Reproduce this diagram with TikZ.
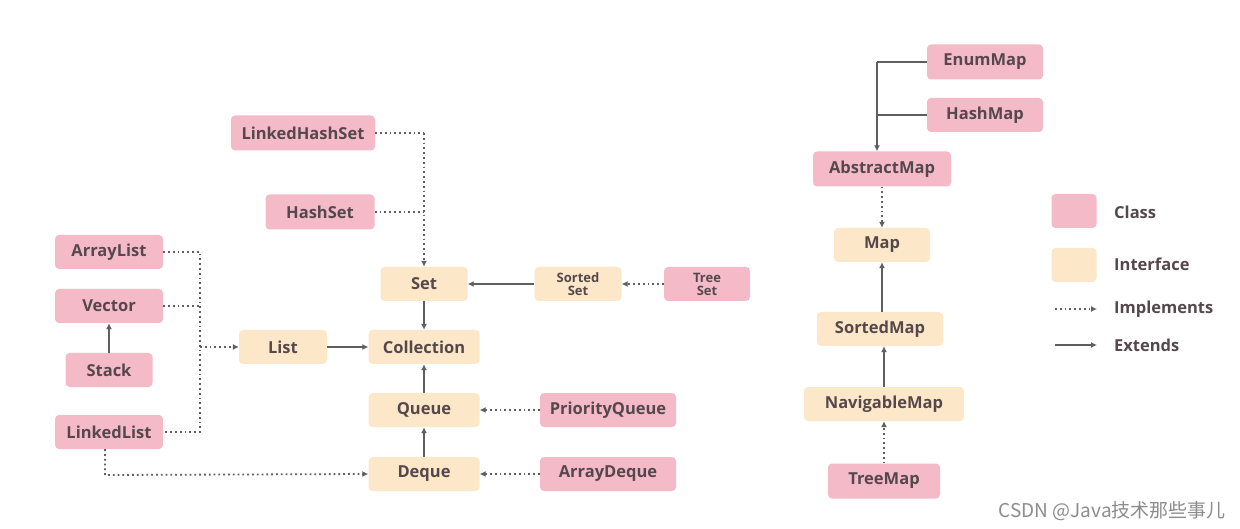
\documentclass[tikz,border=0pt]{standalone}
\usepackage{fontspec}
\setmainfont{Open Sans}
\newfontfamily\cjkfont{Noto Sans CJK SC}
\usetikzlibrary{arrows.meta}
\definecolor{clspink}{RGB}{244,186,200}
\definecolor{ifbeige}{RGB}{252,232,200}
\definecolor{txtgray}{RGB}{85,72,76}
\definecolor{linegray}{RGB}{95,95,95}
\tikzset{
  base/.style={rounded corners=4pt, inner sep=0pt, text=txtgray, font=\fontsize{16.5}{18}\selectfont\bfseries, align=center},
  cls/.style={base, fill=clspink},
  ifc/.style={base, fill=ifbeige},
  small/.style={font=\fontsize{13}{13}\selectfont\bfseries},
  ext/.style={draw=linegray, line width=1.8pt, -{Latex[length=6pt,width=6pt]}},
  extl/.style={draw=linegray, line width=1.8pt},
  impl/.style={draw=linegray, line width=1.8pt, dash pattern=on 1.8pt off 3pt, -{Latex[length=6pt,width=6pt]}},
  impll/.style={draw=linegray, line width=1.8pt, dash pattern=on 1.8pt off 3pt},
  legtxt/.style={text=txtgray, font=\fontsize{16.5}{18}\selectfont\bfseries, anchor=west, inner sep=0pt}
}
\begin{document}
\begin{tikzpicture}[x=1pt,y=-1pt]
\useasboundingbox[fill=white] (0,0) rectangle (1240,529);
% left group
\node[cls, minimum width=144pt, minimum height=35pt] (lhs) at (303,133) {LinkedHashSet};
\node[cls, minimum width=109pt, minimum height=35pt] (hs) at (320,212) {HashSet};
\node[cls, minimum width=108pt, minimum height=34pt] (al) at (109,252) {ArrayList};
\node[cls, minimum width=108pt, minimum height=34pt] (vec) at (109,306) {Vector};
\node[cls, minimum width=87pt, minimum height=34pt] (stk) at (109,370) {Stack};
\node[cls, minimum width=108pt, minimum height=34pt] (ll) at (109,432) {LinkedList};
\node[ifc, minimum width=88pt, minimum height=34pt] (list) at (283,347) {List};
\node[ifc, minimum width=87pt, minimum height=34pt] (set) at (424,284) {Set};
\node[ifc, minimum width=111pt, minimum height=34pt] (coll) at (424,347) {Collection};
\node[ifc, minimum width=111pt, minimum height=34pt] (queue) at (424,410) {Queue};
\node[ifc, minimum width=111pt, minimum height=34pt] (deque) at (424,474) {Deque};
\node[ifc, small, minimum width=87pt, minimum height=34pt] (sset) at (578,284) {Sorted\\Set};
\node[cls, small, minimum width=86pt, minimum height=34pt] (tset) at (707,284) {Tree\\Set};
\node[cls, minimum width=136pt, minimum height=34pt] (pq) at (608,410) {PriorityQueue};
\node[cls, minimum width=136pt, minimum height=34pt] (ad) at (608,474) {ArrayDeque};
% map group
\node[cls, minimum width=116pt, minimum height=35pt] (em) at (985,62) {EnumMap};
\node[cls, minimum width=116pt, minimum height=34pt] (hm) at (985,115) {HashMap};
\node[cls, minimum width=138pt, minimum height=35pt] (am) at (882,169) {AbstractMap};
\node[ifc, minimum width=96pt, minimum height=34pt] (map) at (882,245) {Map};
\node[ifc, minimum width=126pt, minimum height=34pt] (smap) at (880,329) {SortedMap};
\node[ifc, minimum width=160pt, minimum height=34pt] (nmap) at (884,404) {NavigableMap};
\node[cls, minimum width=112pt, minimum height=35pt] (tmap) at (884,481) {TreeMap};
% legend
\node[cls, minimum width=45pt, minimum height=34pt] (lgc) at (1074,211) {};
\node[ifc, minimum width=45pt, minimum height=34pt] (lgi) at (1074,265) {};
\node[legtxt] (lgct) at (1114,212) {Class};
\node[legtxt] (lgit) at (1114,264) {Interface};
\node[legtxt] (lgimt) at (1114,309) {Implements};
\node[legtxt] (lgext) at (1114,345) {Extends};
\coordinate (li1) at (1055,309); \coordinate (li2) at (1097,309);
\coordinate (le1) at (1055,345); \coordinate (le2) at (1097,345);
\draw[impl] (li1) -- (li2);
\draw[ext] (le1) -- (le2);
% set connectors
\coordinate (setj) at (set.north |- lhs.east);
\draw[impll] (lhs.east) -- (setj);
\draw[impl] (setj) -- (set.north);
\draw[impll] (hs.east) -- (set.north |- hs.east);
\draw[ext] (sset.west) -- (set.east);
\draw[impl] (tset.west) -- (sset.east);
\draw[ext] (set.south) -- (coll.north);
\draw[ext] (list.east) -- (coll.west);
\draw[ext] (queue.north) -- (coll.south);
\draw[ext] (deque.north) -- (queue.south);
\draw[impl] (pq.west) -- (queue.east);
\draw[impl] (ad.west) -- (deque.east);
% list connectors
\coordinate (lj1) at (200,252);
\coordinate (lj2) at (200,432);
\coordinate (lj3) at (200,347);
\draw[impll] (al.east) -- (lj1) -- (lj2) -- (ll.east);
\draw[impll] (vec.east) -- (vec.east -| lj1);
\draw[impl] (lj3) -- (list.west);
\draw[ext] (stk.north) -- (vec.south);
\coordinate (lld) at (105,475);
\draw[impl] (ll.south -| lld) -- (lld) -- (deque.west);
% map connectors
\coordinate (mj1) at (877,62);
\draw[extl] (em.west) -- (mj1);
\draw[ext] (mj1) -- (mj1 |- am.north);
\draw[extl] (hm.west) -- (hm.west -| mj1);
\draw[impl] (am.south) -- (map.north);
\draw[ext] (smap.north -| map) -- (map.south);
\draw[ext] (nmap.north) -- (nmap.north |- smap.south);
\draw[impl] (tmap.north) -- (nmap.south);
% watermark
\node[text=black!45, font=\fontsize{19}{19}\selectfont\cjkfont, anchor=east, inner sep=0pt] (wm) at (1226,511) {CSDN @Java技术那些事儿};
\end{tikzpicture}
\end{document}
